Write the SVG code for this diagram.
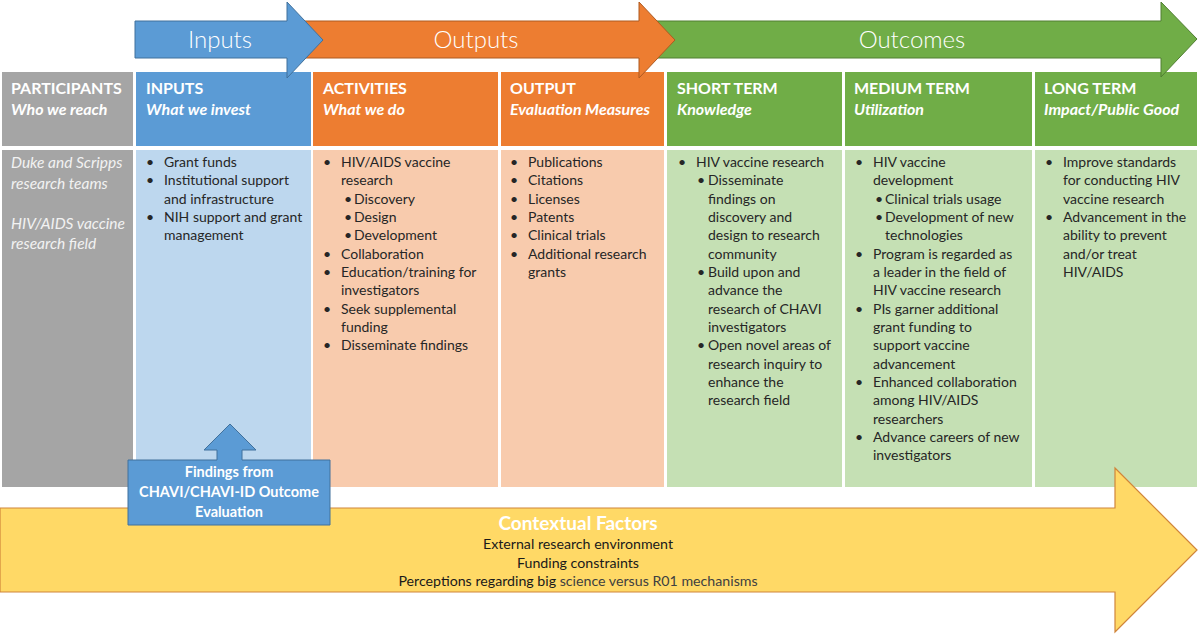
<svg xmlns="http://www.w3.org/2000/svg" width="1200" height="634" viewBox="0 0 1200 634">
<style>
text{font-family:Lato,"Open Sans","Liberation Sans",sans-serif}
.big{font-size:24px;fill:#fff;font-weight:300;text-anchor:middle}
.hd{font-size:16px;font-weight:bold;fill:#fff}
.sub{font-size:16px;font-weight:bold;font-style:italic;fill:#fff}
.part{font-size:15.5px;font-style:italic;fill:#f2f2f2}
.b{font-size:14px;fill:#262626}
.fw{font-size:14.5px;font-weight:bold;fill:#fff;text-anchor:middle}
.cf{font-size:14.2px;fill:#1a1a1a;text-anchor:middle}
.gray{fill:#a5a5a5}.blue{fill:#5b9bd5}.orange{fill:#ed7d31}.green{fill:#70ad47}
.lblue{fill:#bdd7ee}.lorange{fill:#f8cbad}.lgreen{fill:#c5e0b4}
</style>
<g id="columns">
<rect class="gray" x="2" y="72" width="131" height="74"/>
<rect class="blue" x="136" y="72" width="175" height="74"/>
<rect class="orange" x="313" y="72" width="185" height="74"/>
<rect class="orange" x="501" y="72" width="163" height="74"/>
<rect class="green" x="667" y="72" width="175" height="74"/>
<rect class="green" x="845" y="72" width="187" height="74"/>
<rect class="green" x="1035" y="72" width="162" height="74"/>
<rect class="gray" x="2" y="150" width="131" height="337"/>
<rect class="lblue" x="136" y="150" width="175" height="337"/>
<rect class="lorange" x="313" y="150" width="185" height="337"/>
<rect class="lorange" x="501" y="150" width="163" height="337"/>
<rect class="lgreen" x="667" y="150" width="175" height="337"/>
<rect class="lgreen" x="845" y="150" width="187" height="337"/>
<rect class="lgreen" x="1035" y="150" width="162" height="337"/>
</g>
<g id="top-arrows">
<path d="M650,21 H1161 V2 L1197,39 L1161,77 V58 H650 Z" fill="#70ad47" stroke="#507e32" stroke-width="1"/>
<path d="M300,21 H639 V2 L675,40 L639,78 V58 H300 Z" fill="#ed7d31" stroke="#ae5a21" stroke-width="1"/>
<path d="M135,21 H287 V2 L323,40 L287,78 V58 H135 Z" fill="#5b9bd5" stroke="#41719c" stroke-width="1"/>
<text class="big" x="220" y="48">Inputs</text>
<text class="big" x="476" y="48">Outputs</text>
<text class="big" x="912" y="48">Outcomes</text>
</g>
<g id="headers">
<text class="hd" x="11" y="94">PARTICIPANTS</text><text class="sub" x="11" y="115">Who we reach</text>
<text class="hd" x="146" y="94">INPUTS</text><text class="sub" x="146" y="115">What we invest</text>
<text class="hd" x="323" y="94">ACTIVITIES</text><text class="sub" x="323" y="115">What we do</text>
<text class="hd" x="510" y="94">OUTPUT</text><text class="sub" x="510" y="115">Evaluation Measures</text>
<text class="hd" x="677" y="94">SHORT TERM</text><text class="sub" x="677" y="115">Knowledge</text>
<text class="hd" x="854" y="94">MEDIUM TERM</text><text class="sub" x="854" y="115">Utilization</text>
<text class="hd" x="1044" y="94">LONG TERM</text><text class="sub" x="1044" y="115">Impact/Public Good</text>
</g>
<g id="participants">
<text class="part" x="11" y="168">Duke and Scripps</text>
<text class="part" x="11" y="189">research teams</text>
<text class="part" x="11" y="229">HIV/AIDS vaccine</text>
<text class="part" x="11" y="249">research field</text>
</g>
<g id="inputs">
<text class="b" x="146" y="167">•</text><text class="b" x="164" y="167">Grant funds</text>
<text class="b" x="146" y="185">•</text><text class="b" x="164" y="185">Institutional support</text>
<text class="b" x="164" y="204">and infrastructure</text>
<text class="b" x="146" y="222">•</text><text class="b" x="164" y="222">NIH support and grant</text>
<text class="b" x="164" y="240">management</text>
</g>
<g id="activities">
<text class="b" x="323" y="167">•</text><text class="b" x="341" y="167">HIV/AIDS vaccine</text>
<text class="b" x="341" y="185">research</text>
<text class="b" x="344" y="204">•</text><text class="b" x="354" y="204">Discovery</text>
<text class="b" x="344" y="222">•</text><text class="b" x="354" y="222">Design</text>
<text class="b" x="344" y="240">•</text><text class="b" x="354" y="240">Development</text>
<text class="b" x="323" y="259">•</text><text class="b" x="341" y="259">Collaboration</text>
<text class="b" x="323" y="277">•</text><text class="b" x="341" y="277">Education/training for</text>
<text class="b" x="341" y="295">investigators</text>
<text class="b" x="323" y="314">•</text><text class="b" x="341" y="314">Seek supplemental</text>
<text class="b" x="341" y="332">funding</text>
<text class="b" x="323" y="350">•</text><text class="b" x="341" y="350">Disseminate findings</text>
</g>
<g id="output">
<text class="b" x="510" y="167">•</text><text class="b" x="528" y="167">Publications</text>
<text class="b" x="510" y="185">•</text><text class="b" x="528" y="185">Citations</text>
<text class="b" x="510" y="204">•</text><text class="b" x="528" y="204">Licenses</text>
<text class="b" x="510" y="222">•</text><text class="b" x="528" y="222">Patents</text>
<text class="b" x="510" y="240">•</text><text class="b" x="528" y="240">Clinical trials</text>
<text class="b" x="510" y="259">•</text><text class="b" x="528" y="259">Additional research</text>
<text class="b" x="528" y="277">grants</text>
</g>
<g id="short-term">
<text class="b" x="678" y="167">•</text><text class="b" x="696" y="167">HIV vaccine research</text>
<text class="b" x="697" y="185">•</text><text class="b" x="708" y="185">Disseminate</text>
<text class="b" x="708" y="204">findings on</text>
<text class="b" x="708" y="222">discovery and</text>
<text class="b" x="708" y="240">design to research</text>
<text class="b" x="708" y="259">community</text>
<text class="b" x="697" y="277">•</text><text class="b" x="708" y="277">Build upon and</text>
<text class="b" x="708" y="295">advance the</text>
<text class="b" x="708" y="314">research of CHAVI</text>
<text class="b" x="708" y="332">investigators</text>
<text class="b" x="697" y="350">•</text><text class="b" x="708" y="350">Open novel areas of</text>
<text class="b" x="708" y="369">research inquiry to</text>
<text class="b" x="708" y="387">enhance the</text>
<text class="b" x="708" y="405">research field</text>
</g>
<g id="medium-term">
<text class="b" x="855" y="167">•</text><text class="b" x="873" y="167">HIV vaccine</text>
<text class="b" x="873" y="185">development</text>
<text class="b" x="875" y="204">•</text><text class="b" x="885" y="204">Clinical trials usage</text>
<text class="b" x="875" y="222">•</text><text class="b" x="885" y="222">Development of new</text>
<text class="b" x="885" y="240">technologies</text>
<text class="b" x="855" y="259">•</text><text class="b" x="873" y="259">Program is regarded as</text>
<text class="b" x="873" y="277">a leader in the field of</text>
<text class="b" x="873" y="295">HIV vaccine research</text>
<text class="b" x="855" y="314">•</text><text class="b" x="873" y="314">PIs garner additional</text>
<text class="b" x="873" y="332">grant funding to</text>
<text class="b" x="873" y="350">support vaccine</text>
<text class="b" x="873" y="369">advancement</text>
<text class="b" x="855" y="387">•</text><text class="b" x="873" y="387">Enhanced collaboration</text>
<text class="b" x="873" y="405">among HIV/AIDS</text>
<text class="b" x="873" y="424">researchers</text>
<text class="b" x="855" y="442">•</text><text class="b" x="873" y="442">Advance careers of new</text>
<text class="b" x="873" y="460">investigators</text>
</g>
<g id="long-term">
<text class="b" x="1045" y="167">•</text><text class="b" x="1063" y="167">Improve standards</text>
<text class="b" x="1063" y="185">for conducting HIV</text>
<text class="b" x="1063" y="204">vaccine research</text>
<text class="b" x="1045" y="222">•</text><text class="b" x="1063" y="222">Advancement in the</text>
<text class="b" x="1063" y="240">ability to prevent</text>
<text class="b" x="1063" y="259">and/or treat</text>
<text class="b" x="1063" y="277">HIV/AIDS</text>
</g>
<g id="contextual-factors">
<path d="M0,508 H1115 V468 L1197,550 L1115,632 V592 H0 Z" fill="#ffd966" stroke="#d0853a" stroke-width="1.2"/>
<text x="578" y="530" font-size="19" font-weight="bold" fill="#fff" text-anchor="middle">Contextual Factors</text>
<text class="cf" x="578" y="549">External research environment</text>
<text class="cf" x="578" y="568">Funding constraints</text>
<text class="cf" x="578" y="586">Perceptions regarding big <tspan fill="#404040">science versus R01 mechanisms</tspan></text>
</g>
<g id="findings">
<path d="M128,460 H217 V450 H204 L230,424 L256,450 H242 V460 H330 V525 H128 Z" fill="#5b9bd5" stroke="#41719c" stroke-width="1"/>
<text class="fw" x="229" y="477">Findings from</text>
<text class="fw" x="229" y="497">CHAVI/CHAVI-ID Outcome</text>
<text class="fw" x="229" y="517">Evaluation</text>
</g>
</svg>
